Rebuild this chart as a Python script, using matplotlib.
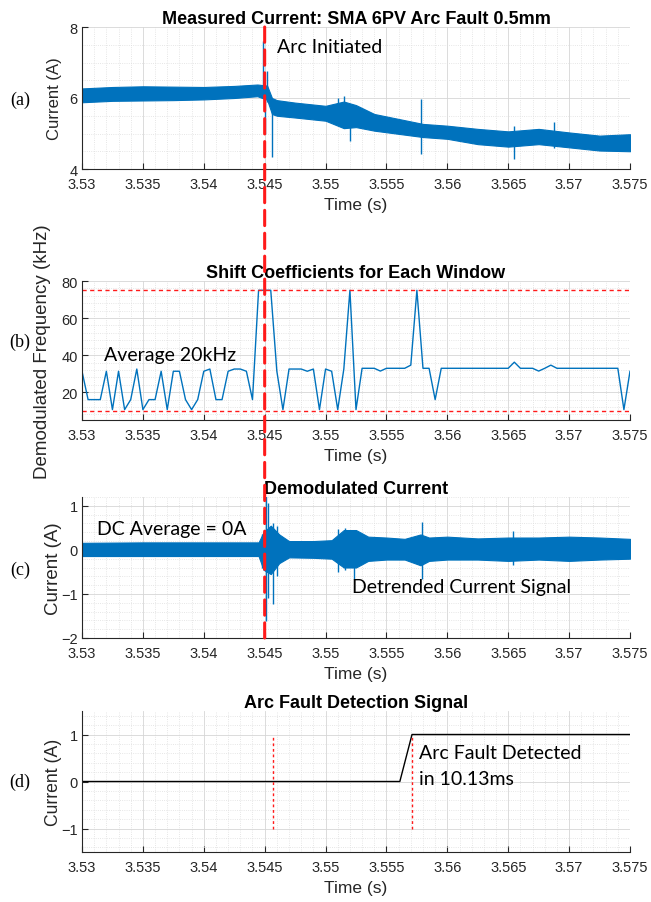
import matplotlib

matplotlib.use("Agg")
import matplotlib.pyplot as plt
from matplotlib.patches import ConnectionPatch
from matplotlib.ticker import AutoMinorLocator

BLUE = "#0072BD"
RED = "#FF1A1A"
ARC_T = 3.545

x_ticks = [3.53, 3.535, 3.54, 3.545, 3.55, 3.555, 3.56, 3.565, 3.57, 3.575]
x_tick_labels = ["3.53", "3.535", "3.54", "3.545", "3.55", "3.555", "3.56", "3.565", "3.57", "3.575"]

# (a) measured current: edges of the noisy band, plus the visible spikes
t_env_a = [3.5300, 3.5325, 3.5350, 3.5375, 3.5400, 3.5425, 3.5444, 3.5452, 3.5456, 3.5460,
           3.5475, 3.5500, 3.5515, 3.5525, 3.5540, 3.5560, 3.5580, 3.5600, 3.5625, 3.5650,
           3.5675, 3.5700, 3.5725, 3.5750]
upper_a = [6.27, 6.31, 6.33, 6.32, 6.31, 6.34, 6.38, 6.35, 6.00, 5.94,
           5.87, 5.78, 5.90, 5.80, 5.55, 5.41, 5.27, 5.22, 5.13, 5.06,
           5.13, 5.03, 4.94, 4.98]
lower_a = [5.88, 5.92, 5.93, 5.94, 5.96, 6.00, 6.05, 5.95, 5.55, 5.50,
           5.45, 5.36, 5.15, 5.18, 5.08, 4.99, 4.90, 4.85, 4.70, 4.63,
           4.70, 4.61, 4.52, 4.50]
spike_t_a = [3.5449, 3.5450, 3.5452, 3.5456, 3.5510, 3.5515, 3.5520, 3.5578, 3.5655, 3.5688]
spike_lo_a = [6.00, 5.00, 5.90, 4.35, 5.30, 5.20, 4.80, 4.42, 4.28, 4.60]
spike_hi_a = [7.60, 6.20, 6.75, 5.90, 6.00, 6.05, 5.70, 5.97, 5.20, 5.32]

# (b) shift coefficient per 0.5 ms window (kHz)
t0_b = 3.530
step_b = 0.0005
shift_khz = [31.3, 16, 16, 16, 31.3, 10.6, 31.3, 10.6, 16, 32.5,
             10.6, 16, 16, 31.3, 10.6, 31.3, 31.3, 16, 10.6, 16,
             31.3, 32.5, 16, 16, 31.3, 32.5, 32.5, 31.3, 16, 75,
             75, 75, 31.3, 10.6, 32.5, 32.5, 32.5, 31.3, 32.5, 10.6,
             32.5, 31.3, 10.6, 32.5, 75, 10.6, 32.9, 32.9, 32.9, 31.4,
             32.9, 32.9, 32.9, 32.9, 34.6, 75, 32.9, 32.9, 16, 32.9,
             32.9, 32.9, 32.9, 32.9, 32.9, 32.9, 32.9, 32.9, 32.9, 32.9,
             32.9, 36.2, 32.9, 32.9, 32.9, 31.4, 32.9, 34.6, 32.9, 32.9,
             32.9, 32.9, 32.9, 32.9, 32.9, 32.9, 32.9, 32.9, 32.9, 10.6,
             31.3]
limits_b = [75, 10]

# (c) demodulated current: band edges and spikes
t_env_c = [3.5300, 3.5350, 3.5400, 3.5445, 3.5449, 3.5455, 3.5462, 3.5470, 3.5490, 3.5505,
           3.5515, 3.5525, 3.5535, 3.5550, 3.5565, 3.5578, 3.5585, 3.5600, 3.5625, 3.5650,
           3.5675, 3.5700, 3.5725, 3.5750]
upper_c = [0.16, 0.17, 0.17, 0.17, 0.40, 0.55, 0.35, 0.20, 0.20, 0.22,
           0.45, 0.45, 0.30, 0.28, 0.25, 0.35, 0.28, 0.30, 0.26, 0.28,
           0.28, 0.30, 0.28, 0.25]
lower_c = [-0.14, -0.14, -0.14, -0.14, -0.45, -0.55, -0.30, -0.17, -0.18, -0.20,
           -0.40, -0.40, -0.25, -0.22, -0.22, -0.35, -0.25, -0.22, -0.22, -0.25,
           -0.22, -0.25, -0.22, -0.20]
spike_t_c = [3.5448, 3.5451, 3.5453, 3.5457, 3.5460, 3.5510, 3.5516, 3.5523, 3.5579, 3.5654]
spike_lo_c = [-0.40, -1.62, -1.10, -1.22, -0.60, -0.50, -0.45, -0.65, -0.65, -0.35]
spike_hi_c = [0.35, 1.22, 1.07, 0.60, 0.55, 0.48, 0.50, 0.45, 0.64, 0.43]

# (d) detection flag
t_d = [3.530, 3.5561, 3.5571, 3.575]
flag_d = [0, 0, 1, 1]
marker_t_d = [3.5457, 3.5571]

W, H = 651, 903


def _box(top, bottom, left=82, right=630):
    return [left / W, 1 - bottom / H, (right - left) / W, (bottom - top) / H]


def _style(ax, ylim, yticks, yminor, ylabel, ysize, title):
    ax.set_xlim(3.53, 3.575)
    ax.set_xticks(x_ticks)
    ax.set_xticklabels(x_tick_labels)
    ax.set_ylim(*ylim)
    ax.set_yticks(yticks)
    ax.xaxis.set_minor_locator(AutoMinorLocator(5))
    ax.yaxis.set_minor_locator(AutoMinorLocator(yminor))
    ax.grid(which="major", color="#d6d6d6", lw=0.6)
    ax.grid(which="minor", color="#dedede", lw=0.6, ls=":")
    ax.set_axisbelow(True)
    for s in ("top", "right"):
        ax.spines[s].set_visible(False)
    for s in ("left", "bottom"):
        ax.spines[s].set_color("#262626")
        ax.spines[s].set_linewidth(0.8)
    ax.tick_params(direction="in", length=4, width=0.8, labelsize=10.5, colors="#262626")
    ax.tick_params(axis="x", pad=6)
    ax.tick_params(axis="y", pad=3)
    ax.tick_params(which="minor", length=0)
    ax.set_xlabel("Time (s)", fontsize=12.5, labelpad=4, color="#262626")
    ax.set_ylabel(ylabel, fontsize=ysize, color="#262626")
    ax.set_title(title, fontsize=13, fontweight="bold", pad=3)


plt.rcParams["font.family"] = ["Liberation Sans", "DejaVu Sans"]
fig = plt.figure(figsize=(6.51, 9.03), dpi=100)

ax_a = fig.add_axes(_box(28, 170))
ax_b = fig.add_axes(_box(282, 421))
ax_c = fig.add_axes(_box(498, 639))
ax_d = fig.add_axes(_box(712, 853))

# (a)
ax_a.fill_between(t_env_a, lower_a, upper_a, color=BLUE, lw=0.8)
ax_a.vlines(spike_t_a, spike_lo_a, spike_hi_a, color=BLUE, lw=1)
_style(ax_a, (4, 8), [4, 6, 8], 4, "Current (A)", 12, "Measured Current: SMA 6PV Arc Fault 0.5mm")
ax_a.yaxis.set_label_coords(-0.037, 0.5)
ax_a.text(3.5460, 7.46, "Arc Initiated", family="Lato", fontsize=14, va="center")

# (b)
t_b = [t0_b + i * step_b for i in range(len(shift_khz))]
ax_b.plot(t_b, shift_khz, color=BLUE, lw=1)
for lim in limits_b:
    ax_b.axhline(lim, color=RED, lw=1, ls=(0, (3, 2.5)))
_style(ax_b, (5, 80), [20, 40, 60, 80], 5, "Demodulated Frequency (kHz)", 13.5, "Shift Coefficients for Each Window")
ax_b.yaxis.set_label_coords(-0.057, 0.5)
ax_b.text(3.5318, 40.6, "Average 20kHz", family="Lato", fontsize=14, va="center")

# (c)
ax_c.fill_between(t_env_c, lower_c, upper_c, color=BLUE, lw=0.8)
ax_c.vlines(spike_t_c, spike_lo_c, spike_hi_c, color=BLUE, lw=1)
_style(ax_c, (-2, 1.2), [-2, -1, 0, 1], 5, "Current (A)", 13.5, "Demodulated Current")
ax_c.yaxis.set_label_coords(-0.037, 0.5)
ax_c.text(3.5312, 0.48, "DC Average = 0A", family="Lato", fontsize=14, va="center")
ax_c.text(3.55215, -0.83, "Detrended Current Signal", family="Lato", fontsize=14, va="center")

# (d)
ax_d.plot(t_d, flag_d, color="black", lw=1)
ax_d.vlines(marker_t_d, -1, 1, color=RED, lw=1, ls=(0, (2, 2)))
_style(ax_d, (-1.5, 1.5), [-1, 0, 1], 5, "Current (A)", 12.7, "Arc Fault Detection Signal")
ax_d.yaxis.set_label_coords(-0.037, 0.5)
ax_d.text(3.5577, 0.61, "Arc Fault Detected", family="Lato", fontsize=14, va="center")
ax_d.text(3.5577, 0.07, "in 10.13ms", family="Lato", fontsize=14, va="center")

# arc onset marker running through panels (a)-(c)
con = ConnectionPatch(xyA=(ARC_T, 8), coordsA=ax_a.transData,
                      xyB=(ARC_T, -2), coordsB=ax_c.transData,
                      color=RED, lw=2.2, ls=(0, (5, 2.5)))
fig.add_artist(con)

for tag, ypix in (("(a)", 100), ("(b)", 342), ("(c)", 570), ("(d)", 782)):
    fig.text(20 / W, 1 - ypix / H, tag, family="Liberation Serif", fontsize=13, ha="center", va="center")

fig.savefig("out.png", dpi=100)
